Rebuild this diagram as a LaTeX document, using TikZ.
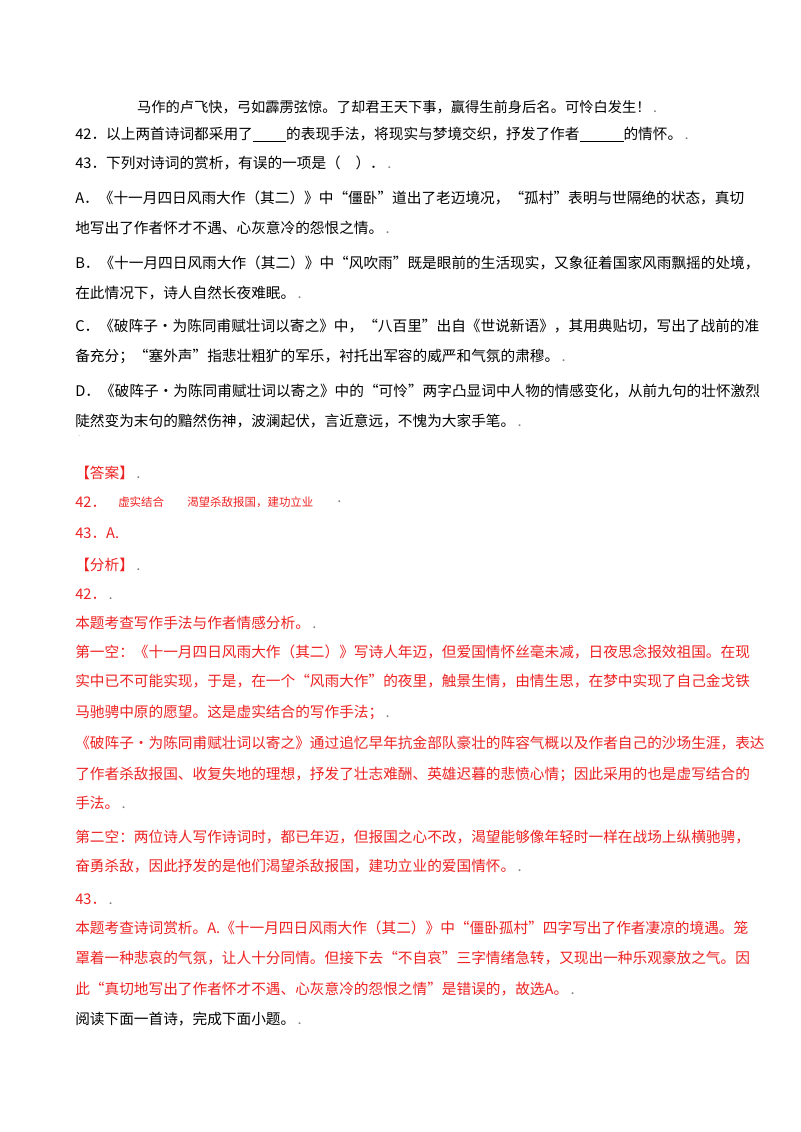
\documentclass[tikz,border=0pt]{standalone}
\usepackage{fontspec}
\setmainfont{Noto Sans CJK SC}
\definecolor{ansred}{RGB}{238,34,34}
\tikzset{
  txt/.style={anchor=west,inner sep=0pt,font=\fontsize{11pt}{13pt}\selectfont},
  ans/.style={txt,text=ansred},
  small/.style={font=\fontsize{8.6pt}{10pt}\selectfont}
}
\newcommand{\parmark}{{\color{gray}\,.}}
\newcommand{\gap}[1]{\underline{\hspace{#1}}}
\begin{document}
\begin{tikzpicture}[x=0.75pt,y=0.75pt,yscale=-1,xscale=1]
    \useasboundingbox (0,0) rectangle (800,1132);
    \fill[white] (0,0) rectangle (800,1132);

    % poem line
    \node (poem) at (397,107) [inner sep=0pt,font=\fontsize{10.7pt}{12pt}\selectfont] {马作的卢飞快，弓如霹雳弦惊。了却君王天下事，赢得生前身后名。可怜白发生！\parmark};
    % questions
    \node (q42) at (75,135) [txt] {42．以上两首诗词都采用了\gap{25pt}的表现手法，将现实与梦境交织，抒发了作者\gap{33pt}的情怀。\parmark};
    \node (q43) at (75,163) [txt] {43．下列对诗词的赏析，有误的一项是（\quad ）．\parmark};
    \node (oa1) at (75,198) [txt] {A．《十一月四日风雨大作（其二）》中“僵卧”道出了老迈境况，“孤村”表明与世隔绝的状态，真切};
    \node (oa2) at (75,228) [txt] {地写出了作者怀才不遇、心灰意冷的怨恨之情。\parmark};
    \node (ob1) at (75,263) [txt] {B．《十一月四日风雨大作（其二）》中“风吹雨”既是眼前的生活现实，又象征着国家风雨飘摇的处境，};
    \node (ob2) at (75,293) [txt] {在此情况下，诗人自然长夜难眠。\parmark};
    \node (oc1) at (75,326) [txt] {C．《破阵子·为陈同甫赋壮词以寄之》中，“八百里”出自《世说新语》，其用典贴切，写出了战前的准};
    \node (oc2) at (75,356) [txt] {备充分；“塞外声”指悲壮粗犷的军乐，衬托出军容的威严和气氛的肃穆。\parmark};
    \node (od1) at (75,391) [txt] {D．《破阵子·为陈同甫赋壮词以寄之》中的“可怜”两字凸显词中人物的情感变化，从前九句的壮怀激烈};
    \node (od2) at (75,421) [txt] {陡然变为末句的黯然伤神，波澜起伏，言近意远，不愧为大家手笔。\parmark};
    \node (dot) at (78,436) [txt,text=gray,font=\tiny] {.};

    % answer
    \node (hda) at (75,473) [ans] {【答案】\parmark};
    \node (a42) at (75,502) [ans] {42．};
    \node (a42a) at (118,502) [ans,small] {虚实结合};
    \node (a42b) at (187,502) [ans,small] {渴望杀敌报国，建功立业};
    \node (a42c) at (337,502) [txt,text=gray] {.};
    \node (a43) at (75,533) [ans] {43．A.};

    % analysis
    \node (hfx) at (75,565) [ans] {【分析】\parmark};
    \node (f42) at (75,594) [ans] {42．\parmark};
    \node (f1) at (75,623) [ans] {本题考查写作手法与作者情感分析。\parmark};
    \node (f2) at (75,652) [ans] {第一空：《十一月四日风雨大作（其二）》写诗人年迈，但爱国情怀丝毫未减，日夜思念报效祖国。在现};
    \node (f3) at (75,681) [ans] {实中已不可能实现，于是，在一个“风雨大作”的夜里，触景生情，由情生思，在梦中实现了自己金戈铁};
    \node (f4) at (75,712) [ans] {马驰骋中原的愿望。这是虚实结合的写作手法；\parmark};
    \node (f5) at (75,743) [ans] {《破阵子·为陈同甫赋壮词以寄之》通过追忆早年抗金部队豪壮的阵容气概以及作者自己的沙场生涯，表达};
    \node (f6) at (75,774) [ans] {了作者杀敌报国、收复失地的理想，抒发了壮志难酬、英雄迟暮的悲愤心情；因此采用的也是虚写结合的};
    \node (f7) at (75,803) [ans] {手法。\parmark};
    \node (f8) at (75,837) [ans] {第二空：两位诗人写作诗词时，都已年迈，但报国之心不改，渴望能够像年轻时一样在战场上纵横驰骋，};
    \node (f9) at (75,866) [ans] {奋勇杀敌，因此抒发的是他们渴望杀敌报国，建功立业的爱国情怀。\parmark};
    \node (f43) at (75,899) [ans] {43．\parmark};
    \node (g1) at (75,928) [ans] {本题考查诗词赏析。A.《十一月四日风雨大作（其二）》中“僵卧孤村”四字写出了作者凄凉的境遇。笼};
    \node (g2) at (75,958) [ans] {罩着一种悲哀的气氛，让人十分同情。但接下去“不自哀”三字情绪急转，又现出一种乐观豪放之气。因};
    \node (g3) at (75,989) [ans] {此“真切地写出了作者怀才不遇、心灰意冷的怨恨之情”是错误的，故选A。\parmark};
    \node (next) at (75,1019) [txt] {阅读下面一首诗，完成下面小题。\parmark};
\end{tikzpicture}
\end{document}
